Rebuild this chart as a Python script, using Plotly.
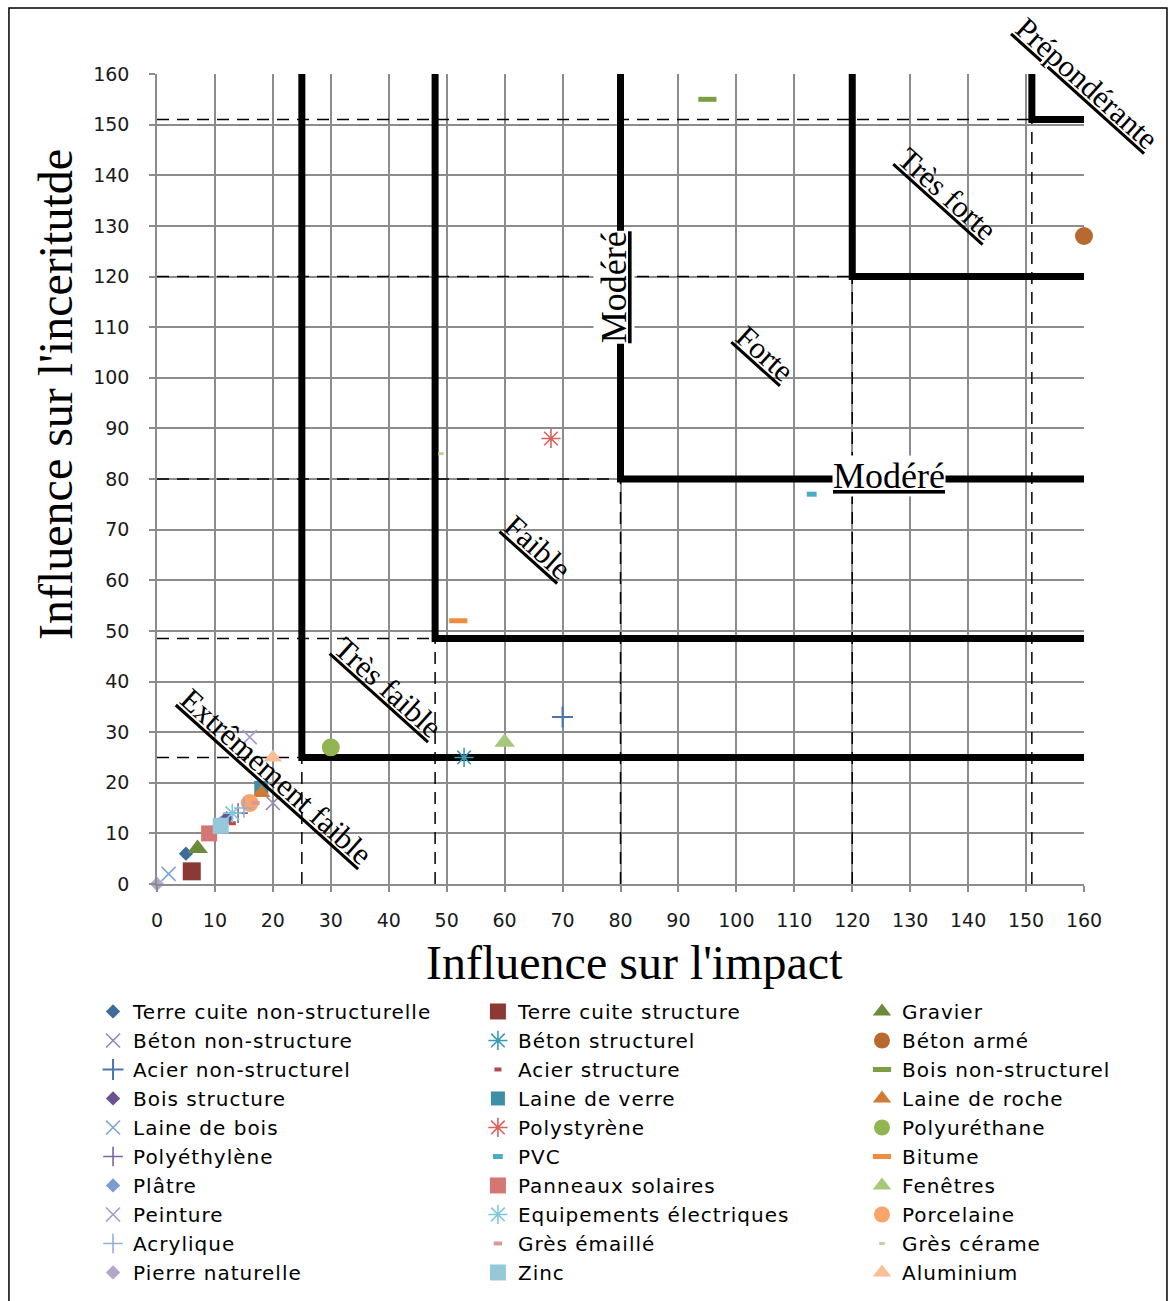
import plotly.graph_objects as go

# ---------------------------------------------------------------------------
# Data: influence of each material on the impact (x) and on the uncertainty (y)
# ---------------------------------------------------------------------------
materials = [
    "Terre cuite non-structurelle", "Terre cuite structure", "Gravier",
    "Béton non-structure", "Béton structurel", "Béton armé",
    "Acier non-structurel", "Acier structure", "Bois non-structurel",
    "Bois structure", "Laine de verre", "Laine de roche",
    "Laine de bois", "Polystyrène", "Polyuréthane",
    "Polyéthylène", "PVC", "Bitume",
    "Plâtre", "Panneaux solaires", "Fenêtres",
    "Peinture", "Equipements électriques", "Porcelaine",
    "Acrylique", "Grès émaillé", "Grès cérame",
    "Pierre naturelle", "Zinc", "Aluminium",
]
impact = [
    5, 6, 7,
    20, 53, 160,
    70, 13, 95,
    12, 18, 18,
    2, 68, 30,
    14, 113, 52,
    11, 9, 60,
    16, 13, 16,
    15, 17, 49,
    0, 11, 20,
]
uncertainty = [
    6, 2.5, 7,
    16, 25, 128,
    33, 12, 155,
    13, 19, 18,
    2, 88, 27,
    14, 77, 52,
    12, 10, 28,
    29, 14, 16,
    15, 16, 85,
    0, 11.5, 25,
]

axis_ticks = list(range(0, 161, 10))

# Class boundaries (corner of each L-shaped frontier)
bound_x = [25, 48, 80, 120, 151]
bound_y = [25, 48.5, 80, 120, 151]

# Marker style of every series: symbol, colour, size, line width
styles = [
    ("diamond", "#3F6A9E", 11, 0), ("square", "#8C3836", 18, 0), ("triangle-up", "#6B8B3A", 18, 0),
    ("x-thin-open", "#9684B4", 14, 1.6), ("asterisk-open", "#3B9AB5", 16, 1.6), ("circle", "#B8692F", 18, 0),
    ("cross-thin-open", "#4A76AE", 15, 2), ("line-ew-open", "#B54A47", 5, 4), ("line-ew-open", "#7E9E45", 13, 5),
    ("diamond", "#6A5193", 11, 0), ("square", "#3C8FA7", 14, 0), ("triangle-up", "#D07A34", 16, 0),
    ("x-thin-open", "#7FA4D6", 14, 1.6), ("asterisk-open", "#D9615E", 16, 1.6), ("circle", "#92B552", 18, 0),
    ("cross-thin-open", "#7E64A3", 14, 1.6), ("line-ew-open", "#4BACC6", 7, 5), ("line-ew-open", "#F08C3E", 13, 5),
    ("diamond", "#7C9BD0", 11, 0), ("square", "#D37674", 16, 0), ("triangle-up", "#A5C879", 18, 0),
    ("x-thin-open", "#A898C8", 14, 1.6), ("asterisk-open", "#7FC8DC", 16, 1.6), ("circle", "#F9A46A", 18, 0),
    ("cross-thin-open", "#95AEDA", 14, 1.6), ("line-ew-open", "#D9989A", 6, 4), ("line-ew-open", "#BDD39C", 4, 3),
    ("diamond", "#B3A6CB", 11, 0), ("square", "#97C8DA", 16, 0), ("triangle-up", "#FBBE98", 16, 0),
]

legend_ids = ["legend", "legend2", "legend3"]

fig = go.Figure()
for i, name in enumerate(materials):
    symbol, color, size, lw = styles[i]
    fig.add_trace(go.Scatter(
        x=[impact[i]], y=[uncertainty[i]], mode="markers",
        name=f'<span style="letter-spacing:1px">{name}</span>',
        legend=legend_ids[i % 3], cliponaxis=False,
        marker=dict(symbol=symbol, color=color, size=size,
                    line=dict(color=color, width=lw)),
    ))

# ---------------------------------------------------------------------------
# Frontiers between the classes: dashed guides and thick L-shaped borders
# ---------------------------------------------------------------------------
shapes = []
dash_style = dict(color="black", width=1.5, dash="12px,8px")
for bx, by in zip(bound_x, bound_y):
    shapes.append(dict(type="line", xref="x", yref="y", x0=0, x1=bx, y0=by, y1=by,
                       line=dash_style, layer="between"))
    shapes.append(dict(type="line", xref="x", yref="y", x0=bx, x1=bx, y0=0, y1=by,
                       line=dash_style, layer="between"))
    shapes.append(dict(type="path", xref="x", yref="y",
                       path=f"M {bx},160 L {bx},{by} L 160,{by}",
                       line=dict(color="black", width=7), layer="between"))

# Outer frame of the figure
shapes.append(dict(type="rect", xref="paper", yref="paper",
                   x0=-0.1597, x1=1.0895, y0=-0.52, y1=1.0815,
                   line=dict(color="black", width=1.5), fillcolor="rgba(0,0,0,0)",
                   layer="above"))

label_font = dict(family="Liberation Serif", size=31, color="black", lineposition="under")
diag_labels = [
    ("Extrêmement faible", 20.6, 21.3),
    ("Très faible", 39.9, 38.8),
    ("Faible", 65.8, 66.5),
    ("Forte", 104.9, 104.7),
    ("Très forte", 136.3, 136.3),
]
annotations = []
for text, ax_, ay_ in diag_labels:
    annotations.append(dict(text=text, x=ax_, y=ay_, xref="x", yref="y",
                            xanchor="center", yanchor="middle",
                            showarrow=False, textangle=42, font=label_font))
annotations.append(dict(text="Prépondérante", x=1.0032, y=0.9877, xref="paper", yref="paper",
                        xanchor="center", yanchor="middle",
                        showarrow=False, textangle=42, font=label_font))

mod_font = dict(family="Liberation Serif", size=36, color="black", lineposition="under")
annotations.append(dict(text="Modéré", x=78.9, y=117.9, xref="x", yref="y", showarrow=False,
                        xanchor="center", yanchor="middle",
                        textangle=-90, font=mod_font, bgcolor="white", borderpad=0))
annotations.append(dict(text="Modéré", x=126.3, y=80.6, xref="x", yref="y", showarrow=False,
                        xanchor="center", yanchor="middle",
                        font=mod_font, bgcolor="white", borderpad=0))

# Axis titles
title_font = dict(family="Liberation Serif", size=48, color="black")
annotations.append(dict(text="Influence sur l'impact", x=0.5151, y=-0.0963,
                        xref="paper", yref="paper", xanchor="center", yanchor="middle",
                        showarrow=False, font=title_font))
annotations.append(dict(text="Influence sur l'inceritutde", x=-0.1100, y=0.6037,
                        xref="paper", yref="paper", xanchor="center", yanchor="middle",
                        showarrow=False, textangle=-90, font=title_font))

tick_font = dict(family="DejaVu Sans", size=19, color="#1a1a1a")
grid = dict(showgrid=True, gridcolor="#8c8c8c", gridwidth=1.5, zeroline=False,
            showline=True, linecolor="#8c8c8c", linewidth=1.5,
            ticks="outside", ticklen=6, tickcolor="#8c8c8c", tickwidth=1.5,
            range=[0, 160], tickvals=axis_ticks, tickfont=tick_font)

legend_common = dict(orientation="v", yanchor="top", xanchor="left", y=-0.1333,
                     bgcolor="rgba(0,0,0,0)", font=dict(family="DejaVu Sans", size=20, color="black"),
                     traceorder="normal")

fig.update_layout(
    width=1169, height=1301,
    margin=dict(l=157, r=85, t=74, b=417, autoexpand=False),
    paper_bgcolor="white", plot_bgcolor="white",
    xaxis=dict(**grid, ticklabelstandoff=12),
    yaxis=dict(**grid, ticklabelstandoff=16),
    shapes=shapes,
    annotations=annotations,
    legend=dict(**legend_common, x=-0.0690),
    legend2=dict(**legend_common, x=0.3462),
    legend3=dict(**legend_common, x=0.7605),
)

fig.write_html("out.html")
